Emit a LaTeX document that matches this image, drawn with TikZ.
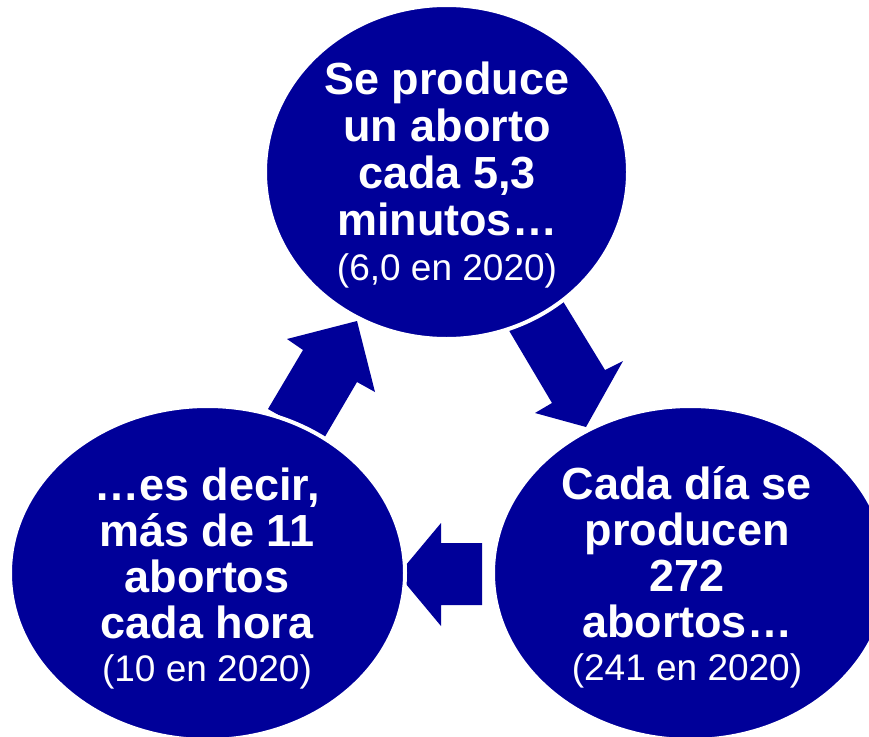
\documentclass[tikz,border=0pt]{standalone}
\usepackage{fontspec}
\setmainfont{Liberation Sans}
\usetikzlibrary{shapes.geometric}
\definecolor{navy}{RGB}{0,0,153}
\begin{document}
\begin{tikzpicture}[x=1pt,y=-1pt,
  blob/.style={ellipse, fill=navy, draw=white, line width=4pt, inner sep=0pt, outer sep=0pt},
  bigarrow/.style={fill=navy, draw=none},
  txt/.style={text=white, align=center, inner sep=0pt, font=\fontsize{45}{47}\selectfont\bfseries},
  txtb/.style={text=white, align=center, inner sep=0pt, font=\fontsize{45}{46}\selectfont\bfseries}]
\useasboundingbox (0,0) rectangle (869,736);
\clip (0,0) rectangle (869,736);
% arrows (drawn first, ellipses cover their ends)
\fill[bigarrow] (268,409) -- (303,350) -- (287,339) -- (357,321) -- (375,392) -- (357,382) -- (323,440) -- cycle;
\fill[bigarrow] (501,317) -- (552,403) -- (535,413) -- (586,427) -- (623,361) -- (605,370) -- (553,285) -- cycle;
\fill[bigarrow] (482,543) -- (441,543) -- (441,523) -- (398,574.5) -- (441,626) -- (441,605) -- (482,605) -- cycle;
% ellipses
\node[blob, minimum width=363pt, minimum height=334pt] (top) at (446.5,172) {};
\node[blob, minimum width=395pt, minimum height=334pt] (left) at (207.5,573) {};
\node[blob, minimum width=395pt, minimum height=334pt] (right) at (690.5,573) {};
% texts
\node[txt] (ttop) at (447,175) {Se produce\\un aborto\\cada 5,3\\minutos…\\[-2pt]{\fontsize{37}{44}\selectfont\mdseries (6,0 en 2020)}};
\node[txtb] (tleft) at (207,578.5) {…es decir,\\más de 11\\abortos\\cada hora\\[-3pt]{\fontsize{37}{44}\selectfont\mdseries (10 en 2020)}};
\node[txtb] (tright) at (687,577.5) {Cada día se\\producen\\272\\abortos…\\[-3pt]{\fontsize{37}{44}\selectfont\mdseries (241 en 2020)}};
\end{tikzpicture}
\end{document}
